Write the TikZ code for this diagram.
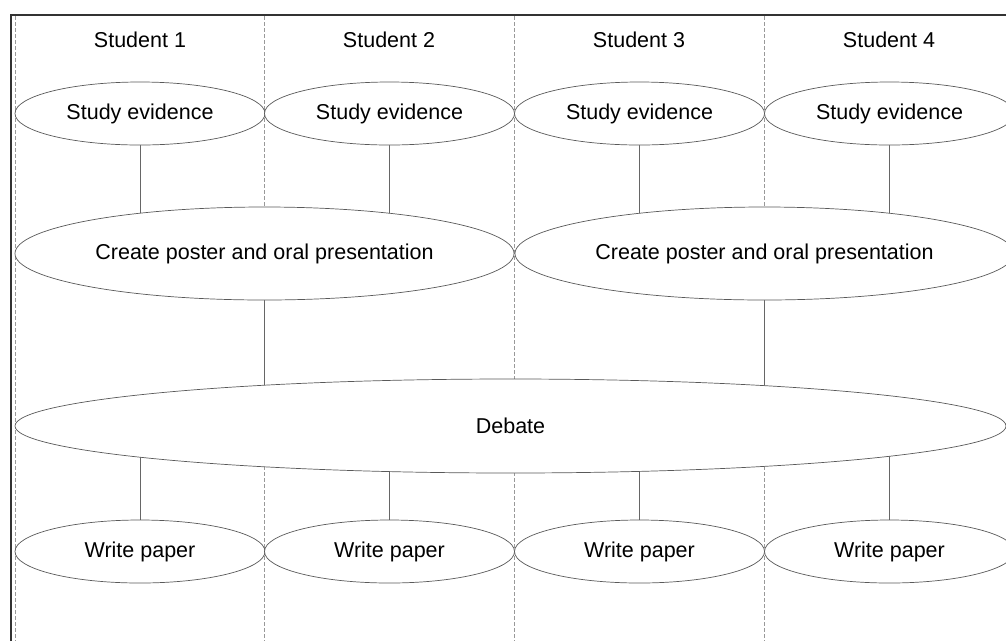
\documentclass[tikz,border=0pt]{standalone}
\usepackage{fontspec}
\setmainfont{Liberation Sans}
\usetikzlibrary{shapes.geometric,backgrounds}
\begin{document}
\begin{tikzpicture}[x=1pt,y=-1pt,
  every node/.style={font=\fontsize{21.5}{26}\selectfont},
  oval/.style={ellipse,draw=black!65,fill=white,line width=0.7pt,inner sep=0pt},
  small/.style={oval,minimum width=250pt,minimum height=63pt},
  mid/.style={oval,minimum width=499pt,minimum height=93pt},
  big/.style={oval,minimum width=991pt,minimum height=94pt},
  lane/.style={draw=black!40,line width=0.6pt,dash pattern=on 4pt off 2pt},
  link/.style={draw=black!60,line width=0.7pt}]
\useasboundingbox (0,0) rectangle (1006,641);
% header labels
\node (h1) at (140,40) {Student 1};
\node (h2) at (389,40) {Student 2};
\node (h3) at (639,40) {Student 3};
\node (h4) at (889,40) {Student 4};
% nodes
\node[small] (s1) at (140,113.5) {Study evidence};
\node[small] (s2) at (389.5,113.5) {Study evidence};
\node[small] (s3) at (639.5,113.5) {Study evidence};
\node[small] (s4) at (889.5,113.5) {Study evidence};
\node[mid] (c1) at (264.5,253.5) {Create poster and oral presentation};
\node[mid] (c2) at (764.5,253.5) {Create poster and oral presentation};
\node[big] (d) at (510.5,426) {Debate};
\node[small] (w1) at (140,551.5) {Write paper};
\node[small] (w2) at (389.5,551.5) {Write paper};
\node[small] (w3) at (639.5,551.5) {Write paper};
\node[small] (w4) at (889.5,551.5) {Write paper};
\begin{scope}[on background layer]
  % frame
  \coordinate (tl) at (11,15);
  \coordinate (tr) at (1006,15);
  \coordinate (bl) at (11,641);
  \draw[line width=1.4pt,black!80] (bl) -- (tl) -- (tr);
  % lanes
  \foreach \x/\n in {15/a,264/b,514/c,764/e}{
    \coordinate (lt\n) at (\x,16);
    \coordinate (lb\n) at (\x,641);
    \draw[lane] (lt\n) -- (lb\n);
  }
  % connectors
  \foreach \s/\c in {s1/c1,s2/c1,s3/c2,s4/c2}{
    \draw[link] (\s.south) -- (\s.south |- \c.center);
  }
  \foreach \c in {c1,c2}{
    \draw[link] (\c.south) -- (\c.south |- d.center);
  }
  \foreach \w in {w1,w2,w3,w4}{
    \draw[link] (\w.north) -- (\w.north |- d.center);
  }
\end{scope}
\end{tikzpicture}
\end{document}
